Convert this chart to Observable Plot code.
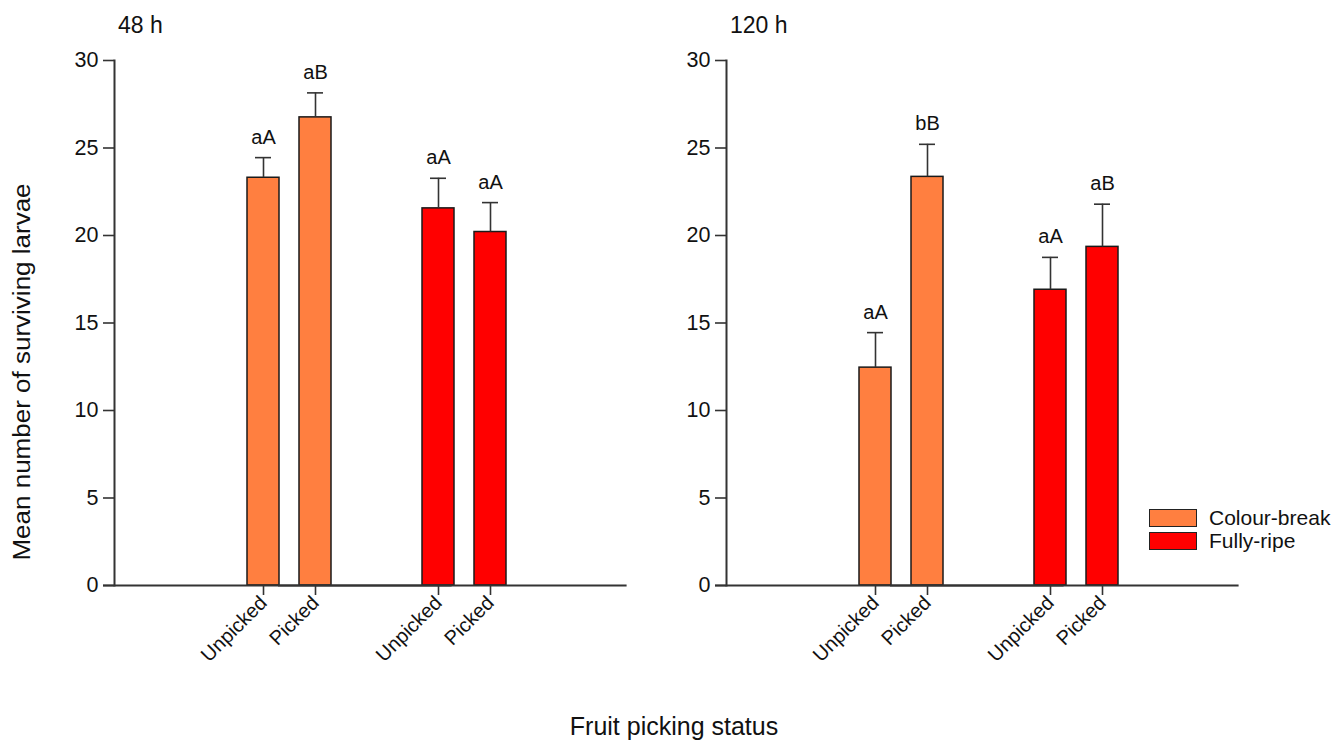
<!DOCTYPE html>
<html><head><meta charset="utf-8">
<script src="https://cdn.jsdelivr.net/npm/d3@7"></script>
<script src="https://cdn.jsdelivr.net/npm/@observablehq/plot@0.6"></script>
<style>
html,body{margin:0;padding:0;background:#fff;}
#fig{position:relative;width:1343px;height:743px;overflow:hidden;font-family:"Liberation Sans",Arial,sans-serif;color:#111;background:#fff;}
.panel{position:absolute;top:0;}
.title{position:absolute;font-size:23px;line-height:23px;white-space:nowrap;}
.xtitle{position:absolute;font-size:25px;line-height:25px;white-space:nowrap;transform:translateX(-50%);}
.ytitle{position:absolute;font-size:26px;line-height:26px;white-space:nowrap;transform:translate(-50%,-50%) rotate(-90deg) scaleY(0.9);}
.legend{position:absolute;left:1149px;top:508px;}
.item{display:flex;align-items:center;height:19px;margin-bottom:4px;}
.sw{width:46px;height:16px;border:1.5px solid #222;margin-right:12px;}
.lab{font-size:21px;line-height:19px;white-space:nowrap;}
</style></head><body><div id="fig"></div>
<script>
// ---- data ----
const panelTitles = ["48 h", "120 h"];
const ripeness = ["Colour-break", "Fully-ripe"];
const statuses = ["Unpicked", "Picked"];
const mean48 = [23.3, 26.75, 21.55, 20.2];
const se48 = [1.15, 1.4, 1.72, 1.68];
const letters48 = ["aA", "aB", "aA", "aA"];
const mean120 = [12.45, 23.35, 16.9, 19.35];
const se120 = [2.0, 1.86, 1.85, 2.44];
const letters120 = ["aA", "bB", "aA", "aB"];
const yTicks = [0, 5, 10, 15, 20, 25, 30];
const colors = ["#FF7F40", "#FF0000"];
const xTitle = "Fruit picking status";
const yTitle = "Mean number of surviving larvae";

function rows(means, ses, letters) {
  return means.map((m, i) => ({
    ripeness: ripeness[Math.floor(i / 2)],
    status: statuses[i % 2],
    mean: m, se: ses[i], top: m + ses[i], letter: letters[i]
  }));
}

const font = "'Liberation Sans', Arial, sans-serif";

function panel(data) {
  return Plot.plot({
    width: 612, height: 743,
    marginTop: 60, marginBottom: 158, marginLeft: 114, marginRight: 147.6,
    style: {fontFamily: font, fontSize: "21px", color: "#111", background: "transparent", overflow: "visible"},
    fx: {domain: ripeness, padding: 0, axis: null, label: null},
    x: {domain: statuses, paddingInner: 0.382, paddingOuter: 0, insetLeft: 132.75, insetRight: -42.75, label: null},
    y: {domain: [0, 30], label: null},
    color: {domain: ripeness, range: colors},
    marks: [
      Plot.barY(data, {fx: "ripeness", x: "status", y: "mean", fill: "ripeness", stroke: "#1a1a1a", strokeWidth: 1.5}),
      Plot.ruleX(data, {fx: "ripeness", x: "status", y1: "mean", y2: "top", stroke: "#333", strokeWidth: 1.6}),
      Plot.tickY(data, {fx: "ripeness", x: "status", y: "top", insetLeft: 8, insetRight: 8, stroke: "#333", strokeWidth: 1.6}),
      Plot.text(data, {fx: "ripeness", x: "status", y: "top", text: "letter", lineAnchor: "bottom", dy: -14, fontSize: 20, fill: "#111"}),
      Plot.ruleY([0], {insetLeft: -11, insetRight: -162.6, stroke: "#333", strokeWidth: 2}),
      Plot.frame({anchor: "left", facetAnchor: "left", stroke: "#333", strokeWidth: 2}),
      Plot.axisY({ticks: yTicks, tickSize: 11, tickPadding: 5, fontSize: 21.5, stroke: "#333", strokeWidth: 1.6, label: null}),
      Plot.axisX({tickRotate: -45, tickSize: 10, tickPadding: 4, fontSize: 20, stroke: "#333", strokeWidth: 1.6, label: null})
    ]
  });
}

const fig = document.getElementById("fig");
const datasets = [rows(mean48, se48, letters48), rows(mean120, se120, letters120)];
datasets.forEach((d, i) => {
  const wrap = document.createElement("div");
  wrap.className = "panel";
  wrap.style.left = (i * 612) + "px";
  wrap.appendChild(panel(d));
  fig.appendChild(wrap);
  const t = document.createElement("div");
  t.className = "title";
  t.style.left = (118 + i * 612) + "px";
  t.style.top = "14px";
  t.textContent = panelTitles[i];
  fig.appendChild(t);
});

const yt = document.createElement("div");
yt.className = "ytitle";
yt.style.left = "22px";
yt.style.top = "372px";
yt.textContent = yTitle;
fig.appendChild(yt);

const xt = document.createElement("div");
xt.className = "xtitle";
xt.style.left = "674px";
xt.style.top = "714px";
xt.textContent = xTitle;
fig.appendChild(xt);

const lg = document.createElement("div");
lg.className = "legend";
ripeness.forEach((r, i) => {
  const it = document.createElement("div");
  it.className = "item";
  const sw = document.createElement("div");
  sw.className = "sw";
  sw.style.background = colors[i];
  const lb = document.createElement("span");
  lb.className = "lab";
  lb.textContent = r;
  it.appendChild(sw); it.appendChild(lb);
  lg.appendChild(it);
});
fig.appendChild(lg);
</script>
</body></html>
